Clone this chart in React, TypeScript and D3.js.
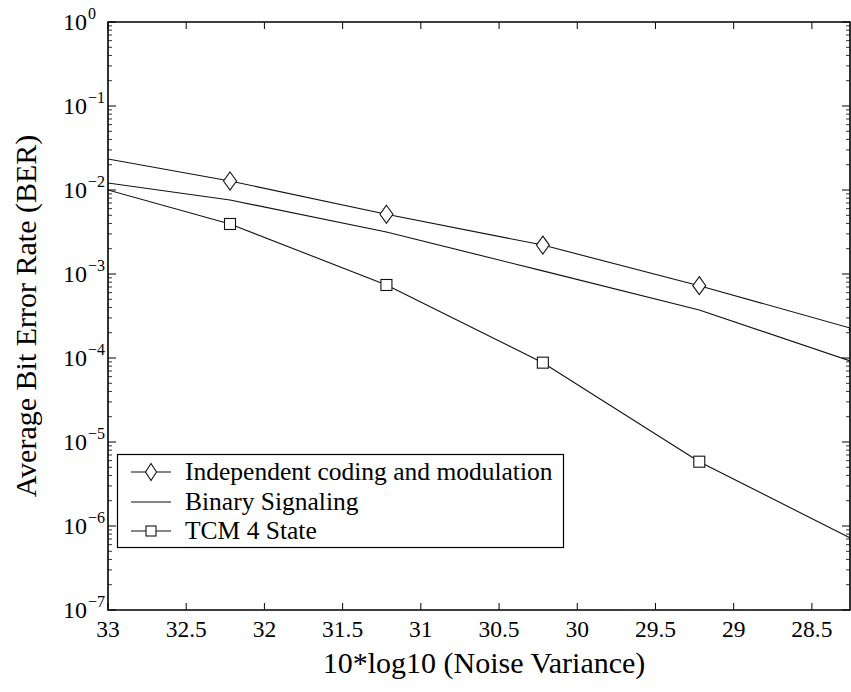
import React from "react";
import * as d3 from "d3";

const xValues = [33.22, 32.22, 31.22, 30.22, 29.22, 28.22];
const independentBER = [0.0277, 0.0128, 5.14e-3, 2.21e-3, 7.26e-4, 2.18e-4];
const binaryBER = [0.0138, 7.6e-3, 3.16e-3, 1.09e-3, 3.73e-4, 8.75e-5];
const tcmBER = [0.013, 3.94e-3, 7.4e-4, 8.8e-5, 5.83e-6, 6.67e-7];
const xTicks = [33, 32.5, 32, 31.5, 31, 30.5, 30, 29.5, 29, 28.5];
const yExponents = [0, -1, -2, -3, -4, -5, -6, -7];
const legendLabels = ["Independent coding and modulation", "Binary Signaling", "TCM 4 State"];

const W = 851;
const H = 692;
const L = 108;
const R = 850;
const T = 22;
const B = 610;
const FONT = "'Liberation Serif', 'Times New Roman', serif";

export default function App() {
  const x = d3.scaleLinear().domain([33, 28.25]).range([L, 851]);
  const y = d3.scaleLog().domain([1, 1e-7]).range([T, B]);
  const line = d3
    .line<number>()
    .x((_, i) => x(xValues[i]))
    .y((d) => y(d));

  const minorTicks: number[] = [];
  for (let e = -7; e < 0; e++) {
    for (let m = 2; m <= 9; m++) minorTicks.push(m * Math.pow(10, e));
  }

  const diamond = (cx: number, cy: number, w: number, h: number) =>
    `M${cx},${cy - h / 2}L${cx + w / 2},${cy}L${cx},${cy + h / 2}L${cx - w / 2},${cy}Z`;

  const legendRows = [472, 502, 531];

  return (
    <div style={{ position: "absolute", left: 0, top: 0 }}>
      <svg width={W} height={H} style={{ display: "block", background: "#fff" }} fontFamily={FONT}>
        <defs>
          <clipPath id="plotClip">
            <rect x={L} y={T} width={R - L} height={B - T} />
          </clipPath>
        </defs>
        <rect x={0} y={0} width={W} height={H} fill="#fff" />

        {/* data lines */}
        <g clipPath="url(#plotClip)" fill="none" stroke="#111" strokeWidth={1.1}>
          <path d={line(independentBER) || ""} />
          <path d={line(binaryBER) || ""} />
          <path d={line(tcmBER) || ""} />
          {independentBER.map((v, i) => (
            <path key={"d" + i} d={diamond(x(xValues[i]), y(v), 13, 18)} fill="#fff" />
          ))}
          {tcmBER.map((v, i) => (
            <rect key={"s" + i} x={x(xValues[i]) - 5.5} y={y(v) - 5.5} width={11} height={11} fill="#fff" />
          ))}
        </g>

        {/* axes box */}
        <g stroke="#000" fill="none">
          <path d={`M${L},${T}H${R}V${B}H${L}Z`} strokeWidth={1.6} />
          {xTicks.map((t) => (
            <g key={"xt" + t}>
              <line x1={x(t)} x2={x(t)} y1={B} y2={B - 7} strokeWidth={1} />
              <line x1={x(t)} x2={x(t)} y1={T} y2={T + 7} strokeWidth={1} />
            </g>
          ))}
          {yExponents.map((e) => (
            <g key={"yt" + e}>
              <line x1={L} x2={L + 8} y1={y(Math.pow(10, e))} y2={y(Math.pow(10, e))} strokeWidth={1} />
              <line x1={R} x2={R - 8} y1={y(Math.pow(10, e))} y2={y(Math.pow(10, e))} strokeWidth={1} />
            </g>
          ))}
          {minorTicks.map((v, i) => (
            <g key={"ym" + i}>
              <line x1={L} x2={L + 4} y1={y(v)} y2={y(v)} strokeWidth={0.8} />
              <line x1={R} x2={R - 4} y1={y(v)} y2={y(v)} strokeWidth={0.8} />
            </g>
          ))}
        </g>

        {/* x tick labels */}
        {xTicks.map((t) => (
          <text key={"xl" + t} x={x(t)} y={637} textAnchor="middle" fontSize={23.5} fill="#000">
            {String(t)}
          </text>
        ))}

        {/* y tick labels */}
        {yExponents.map((e) => (
          <text key={"yl" + e} x={63} y={y(Math.pow(10, e)) + 8} fontSize={24} fill="#000">
            10
            <tspan fontSize={16} dy={-11} dx={1}>
              {e === 0 ? "0" : "\u2212" + String(-e)}
            </tspan>
          </text>
        ))}

        {/* axis labels */}
        <text x={484} y={673} textAnchor="middle" fontSize={30} fill="#000">
          10*log10 (Noise Variance)
        </text>
        <text
          transform={`translate(36,${(T + B) / 2}) rotate(-90)`}
          textAnchor="middle"
          fontSize={30}
          fill="#000"
        >
          Average Bit Error Rate (BER)
        </text>

        {/* legend */}
        <g>
          <rect x={117.5} y={454.5} width={446} height={93} fill="#fff" stroke="#000" strokeWidth={1.2} />
          {legendLabels.map((lab, i) => (
            <g key={"lg" + i}>
              <line x1={131} x2={171} y1={legendRows[i]} y2={legendRows[i]} stroke="#111" strokeWidth={1.1} />
              {i === 0 && <path d={diamond(151, legendRows[i], 11, 17)} fill="#fff" stroke="#111" strokeWidth={1.1} />}
              {i === 2 && (
                <rect x={146} y={legendRows[i] - 5} width={10} height={10} fill="#fff" stroke="#111" strokeWidth={1.1} />
              )}
              <text x={185} y={legendRows[i] + 8} fontSize={25.5} fill="#000">
                {lab}
              </text>
            </g>
          ))}
        </g>
      </svg>
    </div>
  );
}
